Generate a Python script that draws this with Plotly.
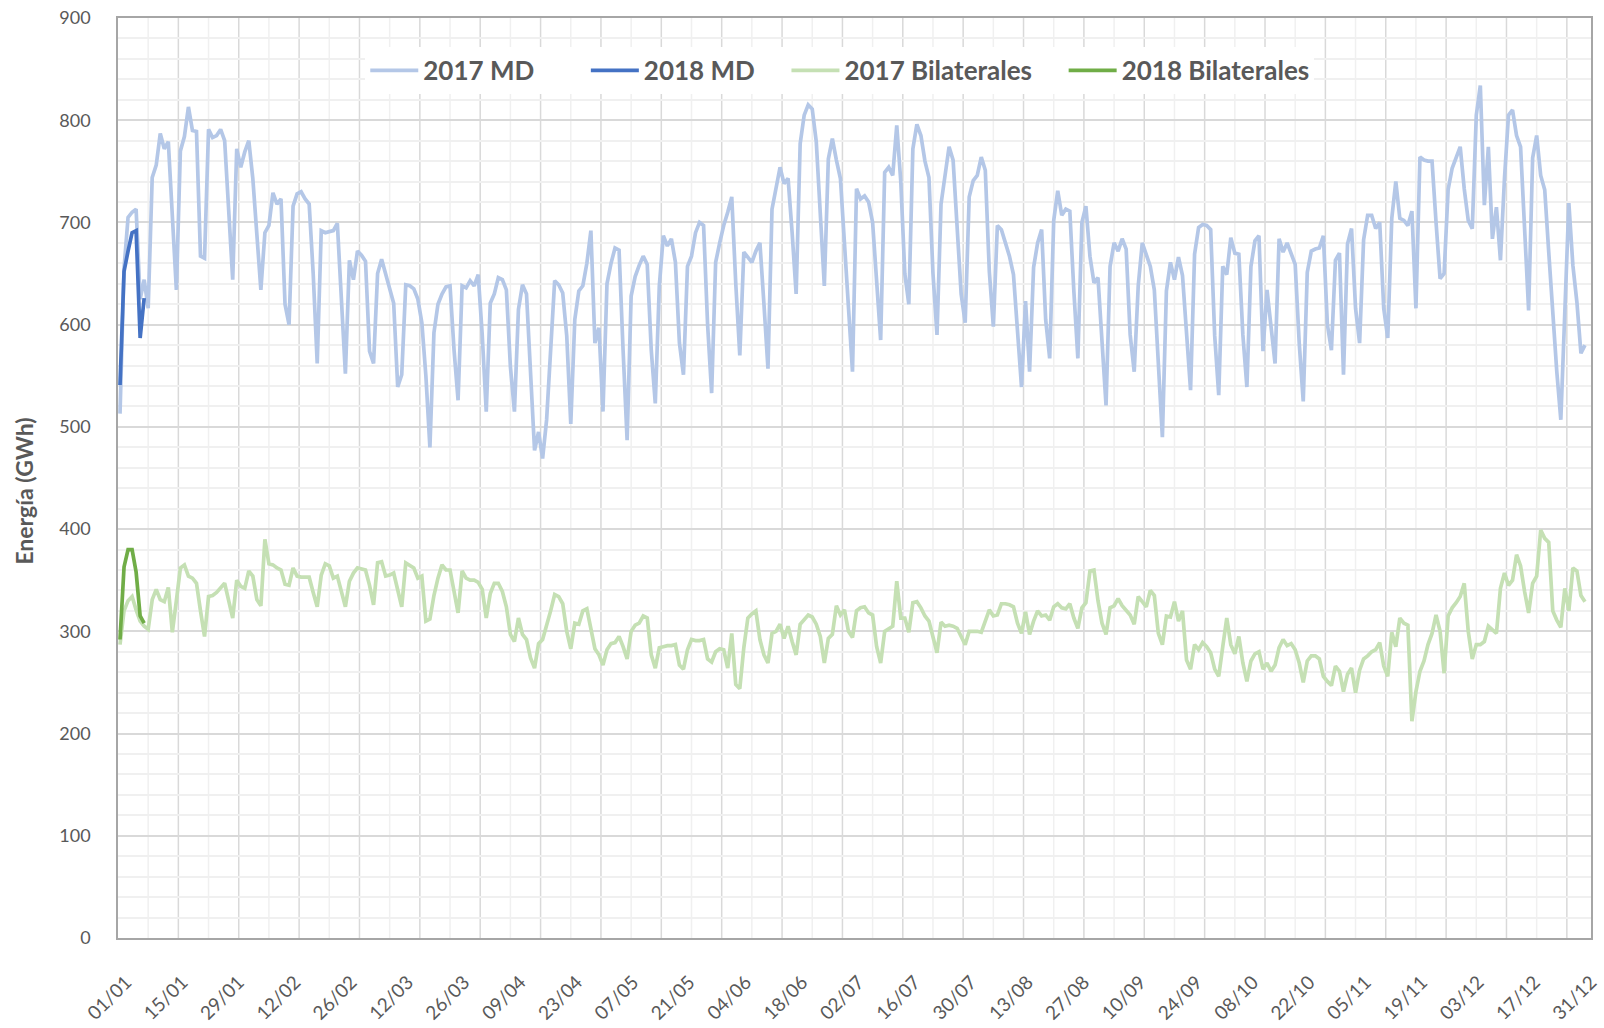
import plotly.graph_objects as go

# ---------------- data (daily, 01/01 .. 31/12) ----------------
md_2017 = [
    513, 655, 705, 710, 713, 625, 644,
    616, 744, 756, 787, 772, 779, 706,
    634, 770, 784, 813, 790, 789, 667,
    665, 791, 783, 785, 791, 780, 712,
    644, 772, 754, 769, 780, 743, 686,
    634, 690, 697, 729, 718, 723, 620,
    600, 716, 728, 730, 723, 718, 650,
    562, 692, 690, 691, 692, 699, 625,
    552, 663, 644, 672, 668, 662, 574,
    562, 650, 664, 649, 636, 621, 539,
    551, 639, 638, 635, 625, 602, 550,
    480, 592, 620, 630, 637, 638, 575,
    526, 638, 636, 643, 638, 649, 590,
    515, 621, 630, 646, 644, 634, 559,
    515, 615, 639, 630, 556, 477, 495,
    469, 507, 580, 643, 639, 631, 589,
    503, 605, 633, 638, 660, 692, 582,
    597, 515, 640, 660, 675, 673, 575,
    487, 628, 647, 658, 667, 659, 575,
    523, 638, 687, 677, 684, 661, 582,
    551, 657, 667, 690, 700, 697, 600,
    533, 661, 680, 697, 710, 725, 640,
    570, 671, 666, 661, 672, 680, 620,
    557, 713, 736, 754, 738, 743, 690,
    630, 777, 805, 815, 811, 779, 710,
    638, 762, 782, 761, 743, 680, 610,
    554, 733, 723, 726, 720, 700, 640,
    585, 749, 754, 746, 795, 740, 650,
    620, 772, 796, 785, 760, 744, 650,
    590, 718, 744, 774, 761, 690, 630,
    602, 725, 741, 746, 764, 751, 652,
    598, 697, 693, 680, 667, 649, 587,
    539, 623, 554, 656, 680, 693, 605,
    567, 702, 731, 707, 713, 711, 633,
    567, 700, 716, 667, 641, 646, 590,
    521, 657, 680, 672, 684, 674, 590,
    554, 638, 680, 667, 657, 634, 560,
    490, 633, 661, 644, 666, 648, 589,
    536, 669, 695, 698, 697, 693, 589,
    531, 657, 649, 685, 670, 669, 590,
    539, 657, 682, 687, 574, 634, 595,
    562, 684, 671, 680, 670, 659, 582,
    525, 651, 672, 674, 675, 687, 600,
    575, 663, 670, 551, 679, 694, 616,
    582, 683, 707, 707, 694, 700, 616,
    587, 704, 740, 704, 702, 697, 711,
    616, 764, 761, 760, 760, 700, 645,
    650, 732, 753, 763, 774, 733, 702,
    694, 805, 834, 717, 774, 684, 715,
    663, 743, 805, 810, 785, 774, 700,
    614, 763, 785, 746, 732, 671, 609,
    554, 507, 616, 719, 658, 622, 572,
    580,
]

md_2018 = [541, 652, 672, 690, 692, 587, 626]

bil_2017 = [
    287, 320, 330, 334, 321, 310, 305,
    302, 331, 341, 331, 329, 343, 299,
    330, 362, 365, 354, 352, 347, 320,
    295, 334, 335, 338, 342, 347, 330,
    313, 350, 344, 342, 359, 354, 331,
    325, 390, 366, 365, 362, 360, 346,
    345, 362, 354, 353, 353, 353, 338,
    324, 355, 366, 364, 352, 354, 340,
    324, 349, 357, 362, 361, 360, 345,
    326, 367, 368, 354, 355, 357, 340,
    324, 367, 365, 362, 352, 354, 310,
    312, 335, 352, 365, 360, 360, 340,
    318, 359, 352, 350, 350, 348, 341,
    313, 337, 347, 347, 339, 324, 297,
    290, 313, 297, 292, 274, 264, 288,
    292, 305, 320, 336, 334, 327, 300,
    283, 308, 307, 320, 322, 303, 283,
    277, 267, 282, 288, 289, 295, 285,
    273, 300, 306, 308, 315, 313, 277,
    264, 284, 285, 286, 286, 287, 267,
    263, 282, 292, 291, 291, 292, 273,
    270, 280, 283, 282, 264, 298, 248,
    244, 284, 313, 317, 320, 292, 277,
    269, 298, 300, 307, 293, 305, 290,
    277, 307, 312, 316, 314, 307, 295,
    269, 293, 297, 325, 316, 321, 300,
    294, 320, 323, 324, 318, 316, 285,
    269, 300, 303, 305, 349, 313, 313,
    299, 328, 329, 323, 315, 310, 295,
    279, 309, 305, 306, 305, 303, 295,
    287, 300, 300, 300, 299, 310, 321,
    315, 316, 327, 327, 326, 324, 308,
    298, 319, 297, 310, 320, 315, 316,
    311, 324, 327, 323, 322, 327, 313,
    303, 323, 328, 359, 360, 330, 308,
    297, 323, 325, 332, 325, 320, 316,
    307, 334, 329, 324, 340, 335, 298,
    287, 315, 314, 329, 310, 320, 272,
    263, 287, 282, 289, 285, 279, 263,
    256, 285, 313, 287, 278, 295, 269,
    251, 271, 278, 280, 263, 269, 261,
    267, 284, 292, 286, 288, 282, 269,
    250, 271, 276, 276, 273, 256, 251,
    247, 266, 261, 241, 258, 264, 240,
    262, 273, 276, 280, 282, 289, 266,
    256, 299, 285, 313, 308, 306, 212,
    241, 261, 271, 287, 298, 316, 300,
    259, 315, 323, 328, 334, 347, 300,
    273, 287, 287, 290, 305, 302, 298,
    342, 357, 345, 350, 375, 364, 339,
    318, 347, 354, 399, 391, 387, 320,
    311, 304, 342, 320, 362, 359, 335,
    329,
]

bil_2018 = [292, 363, 380, 380, 358, 315, 308]

tick_labels = ["01/01", "15/01", "29/01", "12/02", "26/02", "12/03", "26/03",
               "09/04", "23/04", "07/05", "21/05", "04/06", "18/06", "02/07",
               "16/07", "30/07", "13/08", "27/08", "10/09", "24/09", "08/10",
               "22/10", "05/11", "19/11", "03/12", "17/12", "31/12"]
LABEL_STEP = 14
GRID_STEP = 15

# ---------------- figure ----------------
FONT = "Lato, 'Open Sans', sans-serif"
GREY_TXT = "#595959"
NB = "\u00a0"

def days(values):
    return list(range(len(values)))

fig = go.Figure()
series = [
    ("2017 MD", md_2017, "#B4C7E7", 7),
    ("2018 MD", md_2018, "#4472C4", 4),
    ("2017 Bilaterales", bil_2017, "#C5E0B4", 4),
    ("2018 Bilaterales", bil_2018, "#70AD47", 0),
]
for name, vals, col, pad in series:
    fig.add_trace(go.Scatter(
        x=days(vals), y=vals, mode="lines", name="<b>%s</b>%s" % (name, NB * pad),
        line=dict(color=col, width=3.7),
        hoverinfo="skip",
    ))

x_min, x_max = -0.5, 365.5
shapes = []
k = 1
while -0.5 + GRID_STEP * k < x_max:
    shapes.append(dict(type="line", xref="x", yref="paper",
                       x0=-0.5 + GRID_STEP * k, x1=-0.5 + GRID_STEP * k, y0=0, y1=1,
                       line=dict(color="#D9D9D9", width=1.5), layer="below"))
    k += 1
k = 0
while -0.5 + GRID_STEP * k + GRID_STEP / 2 < x_max:
    xv = -0.5 + GRID_STEP * k + GRID_STEP / 2
    shapes.append(dict(type="line", xref="x", yref="paper",
                       x0=xv, x1=xv, y0=0, y1=1,
                       line=dict(color="#F0F0F0", width=1.5), layer="below"))
    k += 1

fig.update_layout(
    width=1604, height=1028,
    margin=dict(l=118, r=4, t=18, b=90),
    paper_bgcolor="white", plot_bgcolor="white",
    font=dict(family=FONT, color=GREY_TXT),
    shapes=shapes,
    showlegend=True,
    legend=dict(orientation="h", x=0.49, xanchor="center", y=0.943, yanchor="middle",
                bgcolor="white", font=dict(size=26, color=GREY_TXT, family=FONT),
                itemwidth=48, traceorder="normal"),
    xaxis=dict(
        range=[x_min, x_max],
        tickmode="array",
        tickvals=list(range(0, len(md_2017), LABEL_STEP)),
        ticktext=tick_labels,
        tickangle=-45,
        tickfont=dict(size=19, color=GREY_TXT, family=FONT),
        ticklabelshift=6, ticklabelstandoff=24, ticklabeloverflow="allow",
        showgrid=False, zeroline=False,
        showline=True, linecolor="#A6A6A6", linewidth=1.5, mirror=True,
        ticks="",
    ),
    yaxis=dict(
        range=[0, 900], dtick=100, tick0=0,
        tickfont=dict(size=18, color=GREY_TXT, family=FONT),
        showgrid=True, gridcolor="#D9D9D9", gridwidth=1.5,
        minor=dict(dtick=20, showgrid=True, gridcolor="#F0F0F0", gridwidth=1.5),
        zeroline=False,
        showline=True, linecolor="#A6A6A6", linewidth=1.5, mirror=True,
        ticks="", ticklabelstandoff=22,
    ),
    annotations=[dict(
        text="<b>Energía (GWh)</b>", textangle=-90,
        xref="paper", yref="paper", x=-0.064, y=0.486,
        xanchor="center", yanchor="middle", showarrow=False,
        font=dict(size=23, color=GREY_TXT, family=FONT),
    )],
)

fig.write_html("out.html", config={"displayModeBar": False},
               post_script="document.body.style.margin='0';document.body.style.overflow='hidden';")
